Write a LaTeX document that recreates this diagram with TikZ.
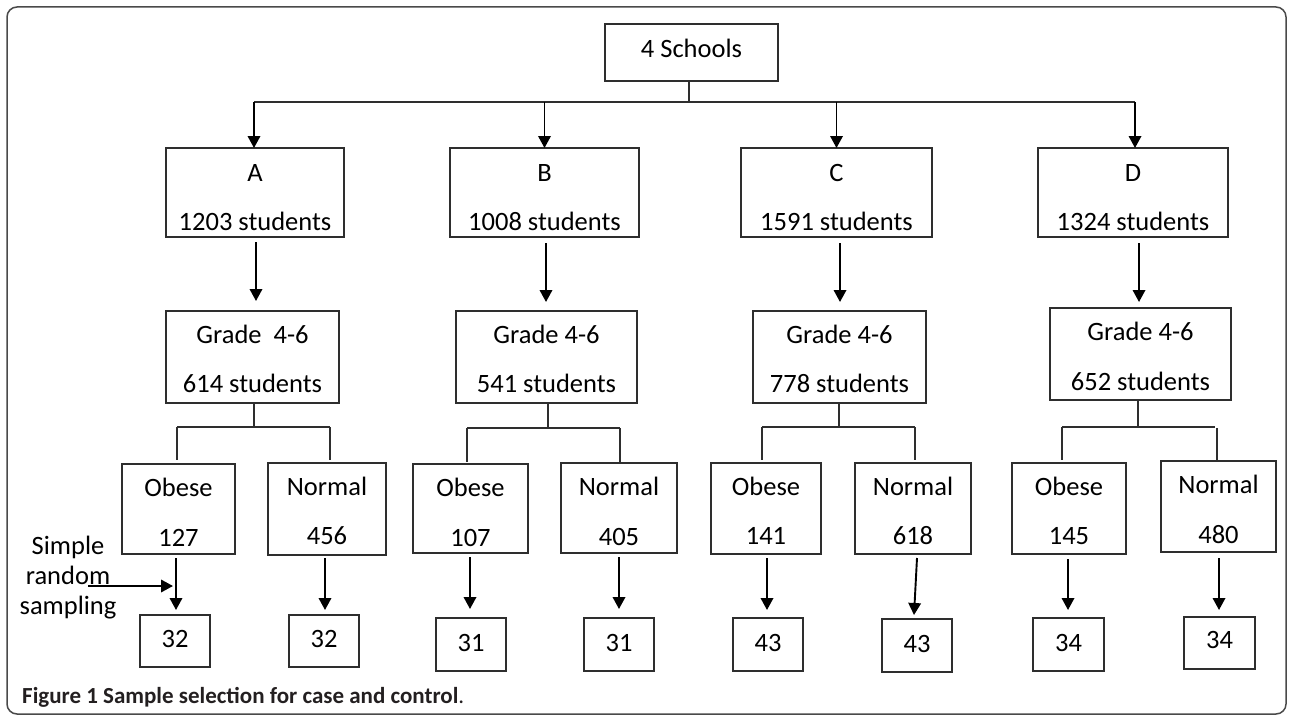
\documentclass[tikz,border=0pt]{standalone}
\usepackage{fontspec}
\setmainfont{Carlito}
\usetikzlibrary{arrows.meta}
\definecolor{framegray}{HTML}{4A4A4A}
\definecolor{boxline}{HTML}{2E2E2E}
\definecolor{captext}{HTML}{231F20}
\tikzset{
  bx/.style={draw=boxline, line width=1.5pt, inner sep=0pt, outer sep=0pt},
  lbl/.style={anchor=base, inner sep=0pt, text=black, font=\fontsize{26.5}{30}\selectfont},
  arr/.style={draw=black, line width=1.9pt, -{Triangle[width=12.5pt,length=12pt]}},
  conn/.style={draw=boxline, line width=1.5pt},
  frame/.style={draw=framegray, line width=1.5pt, rounded corners=10pt},
}
% #1 name, #2 left, #3 top, #4 right, #5 bottom
\newcommand{\boxnode}[5]{%
  \node[bx, minimum width={(#4-#2)*1pt}, minimum height={(#5-#3)*1pt}] (#1) at ({(#2+#4)/2},{(#3+#5)/2}) {};}
% #1 name, #2 x, #3 baseline y, #4 text
\newcommand{\txtnode}[4]{\node[lbl] (#1) at (#2,#3) {#4};}
\begin{document}
\begin{tikzpicture}[x=1pt,y=-1pt]
\useasboundingbox (0,0) rectangle (1292,717);
\draw[frame] (7,7) rectangle (1286,714);

% top
\boxnode{S}{605}{24}{778}{81}
\txtnode{St}{691.5}{57}{4 Schools}
\coordinate (hub) at (689,102);
\coordinate (hl) at (254,102);
\coordinate (hr) at (1135,102);
\draw[conn] ([xshift=-2.5pt]S.south) -- (hub);
\draw[conn] (hl) -- (hr);

% row 1
\boxnode{A}{166}{148}{344}{237}
\boxnode{B}{450}{148}{639}{237}
\boxnode{C}{741}{148}{932}{237}
\boxnode{D}{1038}{148}{1228}{237}
\txtnode{At1}{255}{181}{A}
\txtnode{At2}{255}{230}{1203 students}
\txtnode{Bt1}{544.5}{181}{B}
\txtnode{Bt2}{544.5}{230}{1008 students}
\txtnode{Ct1}{836.5}{181}{C}
\txtnode{Ct2}{836.5}{230}{1591 students}
\txtnode{Dt1}{1133}{181}{D}
\txtnode{Dt2}{1133}{230}{1324 students}
\draw[arr] (hl) -- ([xshift=-1pt]A.north);
\draw[arr] (hl -| B.north) -- (B.north);
\draw[arr] (hl -| C.north) -- (C.north);
\draw[arr] (hr) -- ([xshift=2pt]D.north);

% row 2
\boxnode{GA}{166}{311}{339}{403}
\boxnode{GB}{456}{311}{637}{403}
\boxnode{GC}{753}{311}{926}{403}
\boxnode{GD}{1050}{308}{1231}{400}
\txtnode{GAt1}{252.5}{343.5}{Grade\ \ 4-6}
\txtnode{GAt2}{252.5}{392.5}{614 students}
\txtnode{GBt1}{546.5}{343.5}{Grade 4-6}
\txtnode{GBt2}{546.5}{392.5}{541 students}
\txtnode{GCt1}{839.5}{343.5}{Grade 4-6}
\txtnode{GCt2}{839.5}{392.5}{778 students}
\txtnode{GDt1}{1140.5}{340.5}{Grade 4-6}
\txtnode{GDt2}{1140.5}{390.5}{652 students}
\draw[arr] ([xshift=1pt,yshift=-5pt]A.south) -- ([xshift=3.5pt,yshift=10pt]GA.north);
\draw[arr] ([xshift=1.5pt,yshift=-6pt]B.south) -- ([xshift=-0.5pt,yshift=9pt]GB.north);
\draw[arr] ([xshift=3.5pt,yshift=-6pt]C.south) -- ([xshift=0.5pt,yshift=9pt]GC.north);
\draw[arr] ([xshift=6pt,yshift=-6pt]D.south) -- ([xshift=-1.5pt,yshift=6pt]GD.north);

% row 3
\boxnode{OA}{122}{464}{235}{554}
\boxnode{NA}{268}{463}{386}{555}
\boxnode{OB}{413}{464}{528}{553}
\boxnode{NB}{561}{463}{677}{553}
\boxnode{OC}{711}{463}{821}{554}
\boxnode{NC}{855}{463}{971}{554}
\boxnode{OD}{1012}{463}{1126}{554}
\boxnode{ND}{1161}{461}{1276}{552}
\txtnode{OAt1}{178.5}{496.5}{Obese}
\txtnode{OAt2}{178.5}{546.5}{127}
\txtnode{NAt1}{327}{495.5}{Normal}
\txtnode{NAt2}{327}{544.5}{456}
\txtnode{OBt1}{470.5}{496.5}{Obese}
\txtnode{OBt2}{470.5}{546.5}{107}
\txtnode{NBt1}{619}{495.5}{Normal}
\txtnode{NBt2}{619}{545.5}{405}
\txtnode{OCt1}{766}{495.5}{Obese}
\txtnode{OCt2}{766}{544.5}{141}
\txtnode{NCt1}{913}{495.5}{Normal}
\txtnode{NCt2}{913}{544.5}{618}
\txtnode{ODt1}{1069}{495.5}{Obese}
\txtnode{ODt2}{1069}{544.5}{145}
\txtnode{NDt1}{1218.5}{493.5}{Normal}
\txtnode{NDt2}{1218.5}{543.5}{480}

% branches
\draw[conn] ([xshift=1.5pt]GA.south) -- (254,427);
\draw[conn] (177,427) -- (330,427);
\draw[conn] (177,427) -- ([xshift=-1.5pt,yshift=4pt]OA.north);
\draw[conn] (330,427) -- ([xshift=3pt,yshift=3pt]NA.north);
\draw[conn] ([xshift=1.5pt]GB.south) -- (548,428);
\draw[conn] (467,428) -- (620,428);
\draw[conn] (467,428) -- ([xshift=-3.5pt,yshift=2pt]OB.north);
\draw[conn] (620,428) -- ([xshift=1pt,yshift=1pt]NB.north);
\draw[conn] ([xshift=-0.5pt]GC.south) -- (839,427);
\draw[conn] (762,427) -- (915,427);
\draw[conn] (762,427) -- ([xshift=-4pt,yshift=3pt]OC.north);
\draw[conn] (915,427) -- ([xshift=2pt,yshift=3pt]NC.north);
\draw[conn] ([xshift=-2.5pt]GD.south) -- (1138,427);
\draw[conn] (1062,427) -- (1215,427);
\draw[conn] (1062,427) -- ([xshift=-7pt,yshift=3pt]OD.north);
\draw[conn] (1217,428) -- ([xshift=-1.5pt,yshift=1pt]ND.north);

% row 4
\boxnode{FA1}{140}{615}{210}{667}
\boxnode{FA2}{289}{615}{359}{667}
\boxnode{FB1}{436}{618}{506}{671}
\boxnode{FB2}{584}{618}{654}{671}
\boxnode{FC1}{733}{618}{803}{671}
\boxnode{FC2}{882}{619}{952}{672}
\boxnode{FD1}{1033}{618}{1104}{671}
\boxnode{FD2}{1184}{617}{1255}{669}
\txtnode{FA1t}{175}{647.5}{32}
\txtnode{FA2t}{324}{647.5}{32}
\txtnode{FB1t}{471}{651.5}{31}
\txtnode{FB2t}{619}{651.5}{31}
\txtnode{FC1t}{768}{651.5}{43}
\txtnode{FC2t}{917}{652.5}{43}
\txtnode{FD1t}{1068.5}{651.5}{34}
\txtnode{FD2t}{1219.5}{648.5}{34}

\draw[arr] ([xshift=-2.5pt,yshift=-4pt]OA.south) -- ([xshift=1pt,yshift=5pt]FA1.north);
\draw[arr] ([xshift=-2pt,yshift=-3pt]NA.south) -- ([xshift=1pt,yshift=5pt]FA2.north);
\draw[arr] ([xshift=-0.5pt,yshift=-4pt]OB.south) -- ([xshift=-1pt,yshift=9pt]FB1.north);
\draw[arr] ([yshift=-4pt]NB.south) -- ([yshift=9pt]FB2.north);
\draw[arr] ([xshift=1pt,yshift=-4pt]OC.south) -- ([xshift=-1pt,yshift=8pt]FC1.north);
\draw[arr] ([xshift=4pt,yshift=-4pt]NC.south) -- ([xshift=-3pt,yshift=4pt]FC2.north);
\draw[arr] ([xshift=-1pt,yshift=-5pt]OD.south) -- ([xshift=-0.5pt,yshift=8pt]FD1.north);
\draw[arr] ([xshift=0.5pt,yshift=-6pt]ND.south) -- ([xshift=-0.5pt,yshift=7pt]FD2.north);

% simple random sampling
\node[font=\fontsize{26.5}{30}\selectfont, align=center, inner sep=0pt] (srs) at (68,578) {Simple\\random\\sampling};
\coordinate (srsA) at (88,586);
\coordinate (srsB) at (173,586);
\draw[arr] (srsA) -- (srsB);

% caption
\node[anchor=base west, inner sep=0pt, text=captext, font=\fontsize{23}{26}\selectfont] (cap) at (22,703) {\textbf{Figure 1 Sample selection for case and control}.};
\end{tikzpicture}
\end{document}
